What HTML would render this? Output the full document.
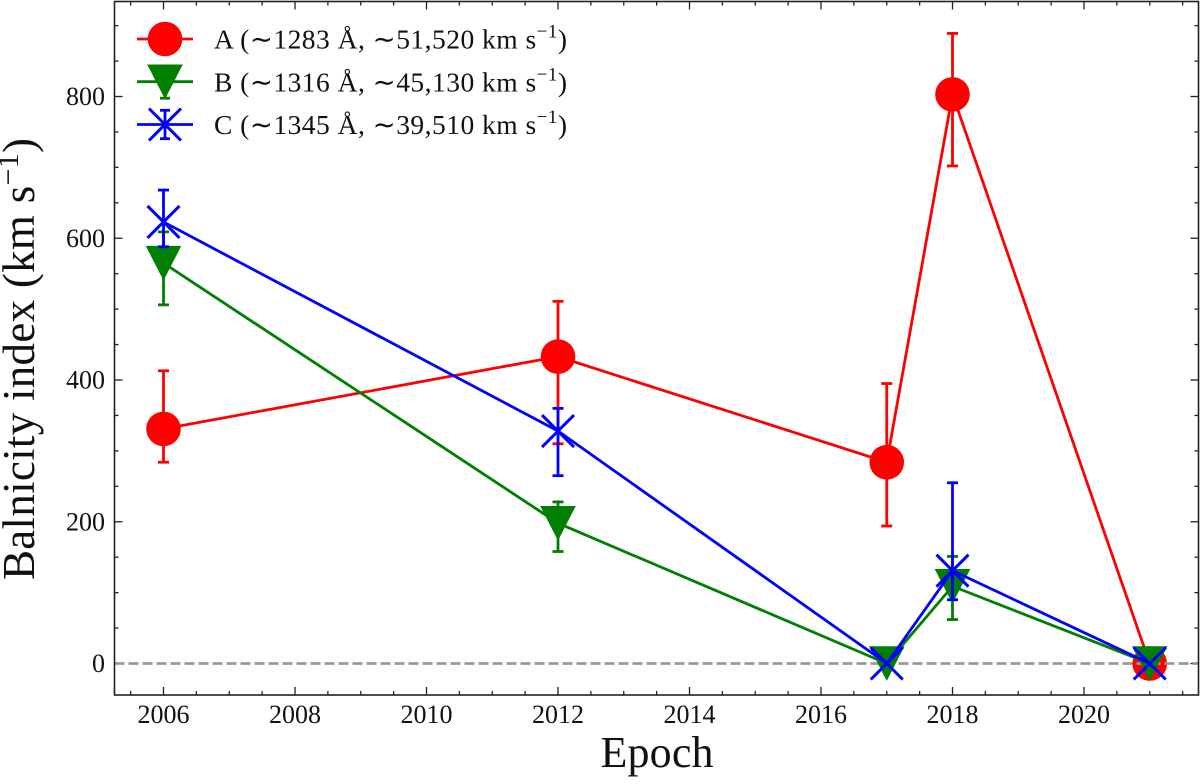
<!DOCTYPE html>
<html>
<head>
<meta charset="utf-8">
<title>Balnicity index vs epoch</title>
<style>
html,body{margin:0;padding:0;background:#fff;width:1200px;height:784px;overflow:hidden}
svg{display:block}
text{font-family:"Liberation Serif",serif;fill:#111}
</style>
</head>
<body>
<svg id="chart" width="1200" height="784" viewBox="0 0 1200 784" xmlns="http://www.w3.org/2000/svg"></svg>
<script>
const epochs = [2006, 2012, 2017, 2018, 2021];
const seriesAValues = [331, 433, 284, 803, 0];
const seriesAUpper = [413, 511, 395, 889, 0];
const seriesALower = [284, 310, 194, 702, 0];
const seriesBValues = [565, 198, 0, 109, 0];
const seriesBUpper = [609, 228, 0, 151, 0];
const seriesBLower = [506, 158, 0, 62, 0];
const seriesCValues = [623, 328, 0, 131, 0];
const seriesCUpper = [668, 360, 0, 255, 0];
const seriesCLower = [588, 265, 0, 90, 0];
const xTickLabels = [2006, 2008, 2010, 2012, 2014, 2016, 2018, 2020];
const yTickLabels = [0, 200, 400, 600, 800];

const NS = 'http://www.w3.org/2000/svg';
const svg = document.getElementById('chart');
const L = 114.5, R = 1198.5, T = 1.5, B = 695;
const LW = 2.8;
const xScale = v => 163.5 + (v - 2006) * 65.75;
const yScale = v => 663.5 - v * 0.70875;

function make(tag, attrs, parent) {
  const el = document.createElementNS(NS, tag);
  for (const k in attrs) el.setAttribute(k, attrs[k]);
  (parent || svg).appendChild(el);
  return el;
}
function segment(x1, y1, x2, y2, stroke, width, parent) {
  return make('line', {x1, y1, x2, y2, stroke, 'stroke-width': width}, parent);
}
function drawMarker(kind, cx, cy, color, parent) {
  if (kind === 'circle') {
    return make('circle', {cx, cy, r: 17.3, fill: color}, parent);
  }
  if (kind === 'triangle') {
    const pts = [[cx - 17.8, cy - 17.2], [cx + 17.8, cy - 17.2], [cx, cy + 17.4]];
    return make('polygon', {points: pts.map(p => p.join(',')).join(' '), fill: color}, parent);
  }
  const g = make('g', {}, parent);
  segment(cx - 16, cy - 16, cx + 16, cy + 16, color, 3, g);
  segment(cx - 16, cy + 16, cx + 16, cy - 16, color, 3, g);
  return g;
}

/* ticks */
const tickGroup = make('g', {});


const tickColor = '#222';
for (let yr = 2005.5; yr <= 2022; yr += 0.5) {
  const x = xScale(yr);
  if (x <= L || x >= R) continue;
  const len = Number.isInteger(yr / 2) ? 8 : 4;
  segment(x, B, x, B - len, tickColor, 1.3, tickGroup);
  segment(x, T, x, T + len, tickColor, 1.3, tickGroup);
}
for (let v = -50; v <= 950; v += 50) {
  const y = yScale(v);
  if (y <= T || y >= B) continue;
  const len = v % 200 === 0 ? 8 : 4;
  segment(L, y, L + len, y, tickColor, 1.3, tickGroup);
  segment(R, y, R - len, y, tickColor, 1.3, tickGroup);
}

/* tick labels */
xTickLabels.forEach(v => {
  const t = make('text', {x: xScale(v), y: 723, 'font-size': 26, 'text-anchor': 'middle'});
  t.textContent = String(v);
  
  
});
yTickLabels.forEach(v => {
  const t = make('text', {x: 105, y: yScale(v) + 8.5, 'font-size': 26, 'text-anchor': 'end'});
  t.textContent = String(v);
  
  
});

/* series drawing */
function drawSeries(name, kind, color, vals, up, lo) {
  const g = make('g', {});
  
  
  const pts = epochs.map((e, i) => xScale(e) + ',' + yScale(vals[i])).join(' ');
  make('polyline', {points: pts, fill: 'none', stroke: color, 'stroke-width': LW, 'stroke-linejoin': 'round'}, g);
  epochs.forEach((e, i) => {
    const x = xScale(e);
    if (up[i] !== lo[i]) {
      const yu = yScale(up[i]), yl = yScale(lo[i]);
      segment(x, yu, x, yl, color, LW, g);
      segment(x - 5.5, yu, x + 5.5, yu, color, LW, g);
      segment(x - 5.5, yl, x + 5.5, yl, color, LW, g);
    }
    const m = drawMarker(kind, x, yScale(vals[i]), color, g);
    
    
  });
}

drawSeries('series-a', 'circle', '#ff0000', seriesAValues, seriesAUpper, seriesALower);

const zeroLine = segment(L, yScale(0), R, yScale(0), '#999999', LW);
zeroLine.setAttribute('stroke-dasharray', '10 4');



drawSeries('series-b', 'triangle', '#007f00', seriesBValues, seriesBUpper, seriesBLower);
drawSeries('series-c', 'x', '#0000ff', seriesCValues, seriesCUpper, seriesCLower);

/* legend */
const legendRows = [
  {id: 'a', kind: 'circle', color: '#ff0000', y: 39, label: 'A (∼1283 Å, ∼51,520 km s', capUp: 0, capDown: 0},
  {id: 'b', kind: 'triangle', color: '#007f00', y: 81.7, label: 'B (∼1316 Å, ∼45,130 km s', capUp: 10, capDown: 16.5},
  {id: 'c', kind: 'x', color: '#0000ff', y: 124.5, label: 'C (∼1345 Å, ∼39,510 km s', capUp: 14.2, capDown: 14.2}
];
legendRows.forEach(r => {
  const g = make('g', {});
  
  
  segment(137, r.y, 193, r.y, r.color, LW, g);
  if (r.capDown) {
    segment(165, r.y - r.capUp, 165, r.y + r.capDown, r.color, LW, g);
    segment(160, r.y - r.capUp, 170, r.y - r.capUp, r.color, LW, g);
    segment(160, r.y + r.capDown, 170, r.y + r.capDown, r.color, LW, g);
  }
  drawMarker(r.kind, 165, r.y, r.color, g);
  const t = make('text', {x: 214, y: r.y + 9.7, 'font-size': 27.5, textLength: 353, lengthAdjust: 'spacing'}, g);
  t.appendChild(document.createTextNode(r.label));
  const sup = make('tspan', {dy: -11, 'font-size': 19}, t);
  sup.textContent = '−1';
  const close = make('tspan', {dy: 11}, t);
  close.textContent = ')';
});

/* axis titles */
const xTitle = make('text', {x: 657, y: 767, 'font-size': 44, 'text-anchor': 'middle', textLength: 113, lengthAdjust: 'spacing'});
xTitle.textContent = 'Epoch';



const yTitle = make('text', {x: 356, y: 0, 'font-size': 45, 'text-anchor': 'middle', transform: 'translate(34 715) rotate(-90)', textLength: 442, lengthAdjust: 'spacing'});
yTitle.appendChild(document.createTextNode('Balnicity index (km s'));
const ySup = make('tspan', {dy: -16, 'font-size': 30}, yTitle);
ySup.textContent = '−1';
const yClose = make('tspan', {dy: 16}, yTitle);
yClose.textContent = ')';



/* frame */
const frame = make('rect', {x: L, y: T, width: R - L, height: B - T, fill: 'none', stroke: '#222', 'stroke-width': 1.6});


</script>
</body>
</html>
